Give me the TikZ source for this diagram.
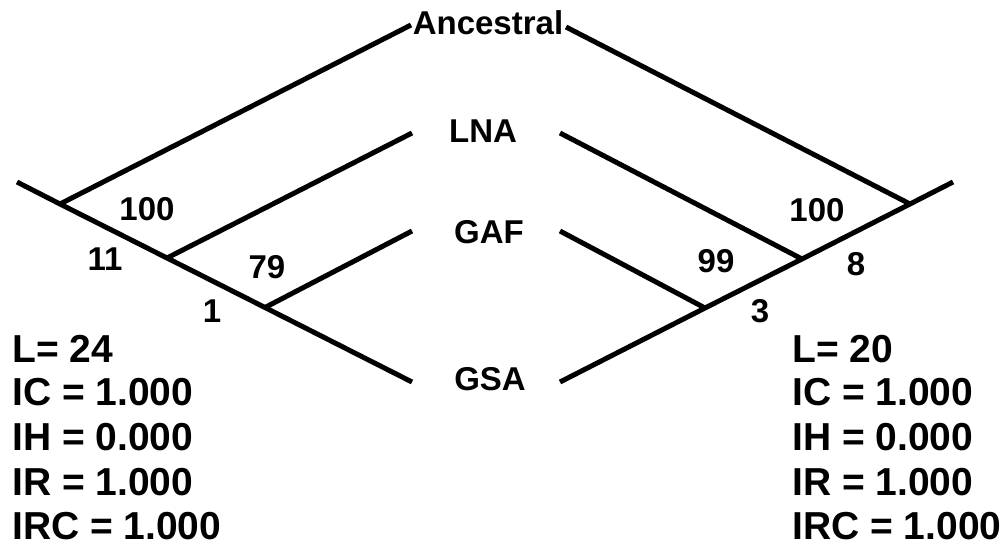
\documentclass[tikz,border=0pt]{standalone}
\usepackage{fontspec}
\setmainfont{Liberation Sans}
\begin{document}
\begin{tikzpicture}[x=1pt,y=-1pt,
  branch/.style={line width=5pt},
  lbl/.style={font=\fontsize{33}{38}\selectfont\bfseries, inner sep=0pt, anchor=base},
  stat/.style={font=\fontsize{39}{45}\selectfont\bfseries, inner sep=0pt, anchor=base west}]
\useasboundingbox (0,0) rectangle (1003,546);
% taxon labels
\node[lbl] (anc) at (488,34) {Ancestral};
\node[lbl] (lna) at (483,142) {LNA};
\node[lbl] (gaf) at (489,243) {GAF};
\node[lbl] (gsa) at (490,390) {GSA};
% left tree
\coordinate (Ls) at (17,182);
\coordinate (LA) at (60,204);
\coordinate (LB) at (167,258);
\coordinate (LC) at (265,307.5);
\coordinate (Le) at (412,382);
\coordinate (Lanc) at (411,25);
\coordinate (Llna) at (412,133);
\coordinate (Lgaf) at (412,231);
\draw[branch] (Ls) -- (LA) -- (LB) -- (LC) -- (Le);
\draw[branch] (LA) -- (Lanc);
\draw[branch] (LB) -- (Llna);
\draw[branch] (LC) -- (Lgaf);
% right tree
\coordinate (Rs) at (953,182);
\coordinate (RA) at (910,204);
\coordinate (RB) at (802,259);
\coordinate (RC) at (705,308);
\coordinate (Re) at (560,382);
\coordinate (Ranc) at (566,27);
\coordinate (Rlna) at (560,133);
\coordinate (Rgaf) at (560,231);
\draw[branch] (Rs) -- (RA) -- (RB) -- (RC) -- (Re);
\draw[branch] (RA) -- (Ranc);
\draw[branch] (RB) -- (Rlna);
\draw[branch] (RC) -- (Rgaf);
% support / branch labels
\node[lbl] (l100) at (147,220) {100};
\node[lbl] (l11) at (105,270) {11};
\node[lbl] (l79) at (267,278) {79};
\node[lbl] (l1) at (212,322) {1};
\node[lbl] (r100) at (817,221) {100};
\node[lbl] (r8) at (856,275) {8};
\node[lbl] (r99) at (716,272) {99};
\node[lbl] (r3) at (760,322) {3};
% statistics
\node[stat] (sl1) at (12,362) {L= 24};
\node[stat] (sl2) at (12,405) {IC = 1.000};
\node[stat] (sl3) at (12,450) {IH = 0.000};
\node[stat] (sl4) at (12,495) {IR = 1.000};
\node[stat] (sl5) at (12,539) {IRC = 1.000};
\node[stat] (sr1) at (792,362) {L= 20};
\node[stat] (sr2) at (792,405) {IC = 1.000};
\node[stat] (sr3) at (792,450) {IH = 0.000};
\node[stat] (sr4) at (792,495) {IR = 1.000};
\node[stat] (sr5) at (792,539) {IRC = 1.000};
\end{tikzpicture}
\end{document}
